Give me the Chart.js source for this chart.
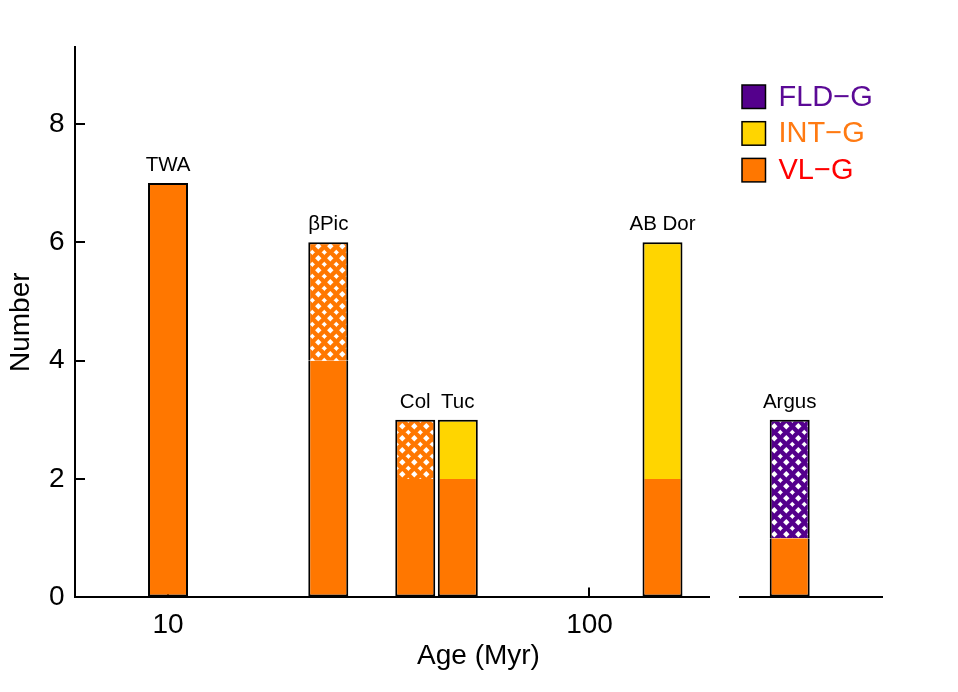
<!DOCTYPE html>
<html>
<head>
<meta charset="utf-8">
<script src="https://cdn.jsdelivr.net/npm/chart.js@4.4.1/dist/chart.umd.min.js"></script>
<style>
  html, body { margin: 0; padding: 0; background: #fff; }
  canvas { display: block; }
</style>
</head>
<body>
<canvas id="ages" width="958" height="692"></canvas>
<script>
// --- data ---
const groups = ['TWA', 'βPic', 'Col', 'Tuc', 'AB Dor'];
const ages = [10, 24, 38.6, 48.7, 149];          // Myr
const vlgSure = [7, 4, 2, 2, 2];                 // VL-G, solid
const vlgCand = [0, 2, 1, 0, 0];                 // VL-G, hatched
const intgSure = [0, 0, 0, 1, 4];                // INT-G, solid

const argusLabel = 'Argus';
const argusPos = [0.35];                         // place inside the broken panel
const argusVlg = [1];
const argusFldCand = [2];

const yTicks = [0, 2, 4, 6, 8];
const xTicks = [10, 100];

const legendItems = [
  { text: 'FLD\u2212G', fill: '#54008C', color: '#5B0A96' },
  { text: 'INT\u2212G', fill: '#FFD500', color: '#FF7A12' },
  { text: 'VL\u2212G',  fill: '#FF7700', color: '#FF0000' }
];

const ORANGE = '#FF7700', YELLOW = '#FFD500', PURPLE = '#54008C';
const FONT = "'Liberation Sans', Arial, Helvetica, sans-serif";

// white diamonds on a coloured ground
function hatch(color) {
  const w = 12.6, h = 12.6;
  const c = document.createElement('canvas');
  c.width = w; c.height = h;
  const g = c.getContext('2d');
  g.fillStyle = color;
  g.fillRect(0, 0, w, h);
  g.fillStyle = '#fff';
  const dia = (cx, cy) => {
    g.beginPath();
    g.moveTo(cx, cy - 3.2); g.lineTo(cx + 3.2, cy);
    g.lineTo(cx, cy + 3.2); g.lineTo(cx - 3.2, cy);
    g.closePath(); g.fill();
  };
  [[0, 0], [w, 0], [0, h], [w, h], [w / 2, h / 2]].forEach(p => dia(p[0], p[1]));
  return g.createPattern(c, 'repeat');
}

const nz = v => (v > 0 ? v : null);

// outline the whole stack, not each piece
function stackBorder(stackArrays, level) {
  return function(ctx) {
    const i = ctx.dataIndex;
    const below = stackArrays.slice(0, level).some(a => a[i] > 0);
    const above = stackArrays.slice(level + 1).some(a => a[i] > 0);
    return { left: 2, right: 2, top: above ? 0 : 2, bottom: below ? 0 : 2 };
  };
}

const mainStack = [vlgSure, vlgCand, intgSure];
const argusStack = [argusVlg, argusFldCand];

const datasets = [
  {
    label: 'VL-G',
    stack: 'age',
    data: ages.map((a, i) => ({ x: a, y: nz(vlgSure[i]) })),
    backgroundColor: ORANGE,
    borderWidth: stackBorder(mainStack, 0)
  },
  {
    label: 'VL-G (hatched)',
    stack: 'age',
    data: ages.map((a, i) => ({ x: a, y: nz(vlgCand[i]) })),
    backgroundColor: hatch(ORANGE),
    borderWidth: stackBorder(mainStack, 1)
  },
  {
    label: 'INT-G',
    stack: 'age',
    data: ages.map((a, i) => ({ x: a, y: nz(intgSure[i]) })),
    backgroundColor: YELLOW,
    borderWidth: stackBorder(mainStack, 2)
  },
  {
    label: 'Argus VL-G',
    stack: 'argus',
    xAxisID: 'xa',
    data: argusPos.map((p, i) => ({ x: p, y: nz(argusVlg[i]) })),
    backgroundColor: ORANGE,
    borderWidth: stackBorder(argusStack, 0)
  },
  {
    label: 'Argus FLD-G (hatched)',
    stack: 'argus',
    xAxisID: 'xa',
    data: argusPos.map((p, i) => ({ x: p, y: nz(argusFldCand[i]) })),
    backgroundColor: hatch(PURPLE),
    borderWidth: stackBorder(argusStack, 1)
  }
];

const fixHeight = s => { s.height = 42; };

const labelsAndLegend = {
  id: 'labelsAndLegend',
  afterDatasetsDraw(chart) {
    const ctx = chart.ctx;
    const x = chart.scales.x, xa = chart.scales.xa, y = chart.scales.y;
    ctx.save();
    ctx.fillStyle = '#000';
    ctx.font = '20.5px ' + FONT;
    ctx.textAlign = 'center';
    ctx.textBaseline = 'alphabetic';
    groups.forEach((g, i) => {
      const tot = vlgSure[i] + vlgCand[i] + intgSure[i];
      ctx.fillText(g, x.getPixelForValue(ages[i]), y.getPixelForValue(tot) - 12);
    });
    const atot = argusVlg[0] + argusFldCand[0];
    ctx.fillText(argusLabel, xa.getPixelForValue(argusPos[0]), y.getPixelForValue(atot) - 12);

    // legend
    const bx = xa.left + 2, by0 = chart.chartArea.top + 38, step = 36.7, bs = 23.5;
    ctx.font = '29px ' + FONT;
    ctx.textAlign = 'left';
    ctx.textBaseline = 'middle';
    legendItems.forEach((it, k) => {
      const by = by0 + k * step;
      ctx.fillStyle = it.fill;
      ctx.fillRect(bx, by, bs, bs);
      ctx.lineWidth = 1.5;
      ctx.strokeStyle = '#000';
      ctx.strokeRect(bx, by, bs, bs);
      ctx.fillStyle = it.color;
      ctx.fillText(it.text, bx + 36.5, by + bs / 2 + 1);
    });
    ctx.restore();
  }
};

new Chart(document.getElementById('ages').getContext('2d'), {
  type: 'bar',
  data: { datasets: datasets },
  plugins: [labelsAndLegend],
  options: {
    responsive: false,
    animation: false,
    layout: { padding: { top: 47, right: 76, left: 0, bottom: 0 } },
    datasets: {
      bar: { grouped: false, barThickness: 40, borderColor: '#000', borderSkipped: false, inflateAmount: 0 }
    },
    plugins: {
      legend: { display: false },
      tooltip: { enabled: false },
      title: {
        display: true,
        text: 'Age (Myr)',
        position: 'bottom',
        fullSize: false,
        color: '#000',
        font: { family: FONT, size: 28, weight: 'normal', lineHeight: 1.2 },
        padding: { top: 0, bottom: 19 }
      }
    },
    scales: {
      x: {
        type: 'logarithmic',
        stacked: true,
        offset: false,
        min: 6.016,
        max: 192.1,
        stack: 'bottom',
        stackWeight: 634,
        afterBuildTicks: s => { s.ticks = xTicks.map(v => ({ value: v })); },
        afterFit: fixHeight,
        border: { display: true, color: '#000', width: 2 },
        grid: { offset: false, drawOnChartArea: false, drawTicks: true, tickLength: -10, color: '#000', lineWidth: 2 },
        ticks: {
          color: '#000', padding: 21, maxRotation: 0, autoSkip: false,
          font: { family: FONT, size: 28 },
          callback: v => String(v)
        }
      },
      xg: {
        type: 'linear',
        position: 'bottom',
        offset: false,
        stack: 'bottom',
        stackWeight: 31,
        min: 0, max: 1,
        afterFit: fixHeight,
        border: { display: false },
        grid: { display: false },
        ticks: { display: false }
      },
      xa: {
        type: 'linear',
        position: 'bottom',
        offset: false,
        stacked: true,
        stack: 'bottom',
        stackWeight: 142,
        min: 0, max: 1,
        afterFit: fixHeight,
        border: { display: true, color: '#000', width: 2 },
        grid: { display: false },
        ticks: { display: false }
      },
      y: {
        type: 'linear',
        stacked: true,
        min: 0,
        max: 9.3,
        afterBuildTicks: s => { s.ticks = yTicks.map(v => ({ value: v })); },
        afterFit: s => { s.width = 75; },
        border: { display: true, color: '#000', width: 2 },
        grid: { drawOnChartArea: false, drawTicks: true, tickLength: -10, color: '#000', lineWidth: 2 },
        ticks: { color: '#000', padding: 20.5, font: { family: FONT, size: 28 } },
        title: {
          display: true,
          text: 'Number',
          color: '#000',
          font: { family: FONT, size: 28, lineHeight: 1.2 },
          padding: { top: 4, bottom: 0 }
        }
      }
    }
  }
});
</script>
</body>
</html>
